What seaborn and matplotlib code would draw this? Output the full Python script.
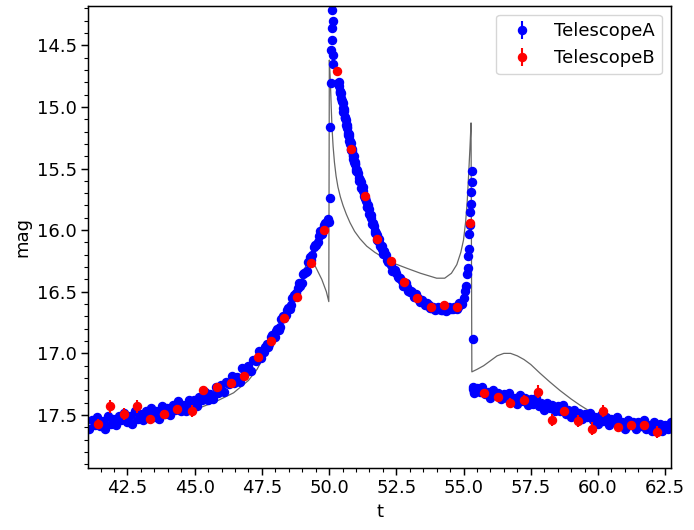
import numpy as np
import matplotlib
matplotlib.use("Agg")
import matplotlib.pyplot as plt
import seaborn as sns

# TelescopeA: baseline rise before the first caustic crossing
tA_rise = [41.08, 41.18, 41.28, 41.38, 41.48, 41.58, 41.68, 41.78, 41.88, 41.98,
           42.08, 42.18, 42.28, 42.38, 42.48, 42.58, 42.68, 42.78, 42.88, 42.98,
           43.08, 43.18, 43.28, 43.38, 43.48, 43.58, 43.68, 43.78, 43.88, 43.98,
           44.08, 44.18, 44.28, 44.38, 44.48, 44.58, 44.68, 44.78, 44.88, 44.98,
           45.08, 45.18, 45.28, 45.38, 45.48, 45.58, 45.68, 45.78, 45.88, 45.98,
           46.08, 46.18, 46.28, 46.38, 46.48, 46.58, 46.68, 46.78, 46.88, 46.98,
           47.08, 47.18, 47.28, 47.38, 47.48, 47.58, 47.68, 47.78, 47.88, 47.98,
           48.08, 48.18, 48.28, 48.38, 48.48, 48.58, 48.68, 48.78, 48.88, 48.98,
           49.08, 49.18, 49.28, 49.38, 49.48, 49.58, 49.68, 49.78, 49.86, 49.92,
           49.97, 50.00,
           47.63, 47.73, 47.83, 47.93, 48.03, 48.13, 48.23, 48.33, 48.43, 48.53,
           48.63, 48.73, 48.83, 48.93, 49.03, 49.13, 49.23, 49.33, 49.43, 49.53,
           49.63, 49.73, 49.82]
magA_rise = [17.61, 17.54, 17.58, 17.52, 17.59, 17.55, 17.61, 17.51, 17.57, 17.53,
             17.58, 17.51, 17.54, 17.48, 17.56, 17.51, 17.57, 17.47, 17.53, 17.49,
             17.54, 17.47, 17.50, 17.44, 17.52, 17.47, 17.53, 17.43, 17.49, 17.44,
             17.50, 17.42, 17.46, 17.39, 17.47, 17.42, 17.47, 17.38, 17.43, 17.38,
             17.43, 17.35, 17.38, 17.31, 17.38, 17.33, 17.37, 17.27, 17.32, 17.26,
             17.31, 17.23, 17.25, 17.18, 17.24, 17.19, 17.23, 17.12, 17.16, 17.10,
             17.14, 17.05, 17.06, 16.98, 17.04, 16.99, 16.92, 16.92, 16.85, 16.87,
             16.80, 16.79, 16.70, 16.69, 16.63, 16.61, 16.53, 16.51, 16.43, 16.43,
             16.35, 16.33, 16.22, 16.20, 16.12, 16.10, 16.01, 15.99, 15.94, 15.93,
             15.91, 15.93,
             16.95, 16.95, 16.87, 16.87, 16.82, 16.81, 16.72, 16.71, 16.65, 16.64,
             16.55, 16.53, 16.47, 16.45, 16.36, 16.34, 16.26, 16.24, 16.14, 16.12,
             16.05, 16.03, 15.96]

# TelescopeA: points on the first caustic peak
tA_peak = [50.03, 50.04, 50.07, 50.09, 50.11, 50.10, 50.13, 50.10, 50.14, 50.15]
magA_peak = [15.74, 15.16, 14.81, 14.54, 14.46, 14.36, 14.30, 14.21, 14.58, 14.65]

# TelescopeA: decline between the caustics and second crossing
tA_fall = [50.35, 50.38, 50.41, 50.44, 50.47, 50.50, 50.53, 50.56, 50.59, 50.62,
           50.65, 50.68, 50.71, 50.74, 50.77, 50.80, 50.83, 50.86, 50.89, 50.92,
           50.95, 50.98, 51.01, 51.05, 51.10, 51.15, 51.20, 51.25, 51.30, 51.35,
           51.40, 51.45, 51.50, 51.55, 51.60, 51.65, 51.70, 51.75, 51.80, 51.85,
           51.90, 51.95, 52.00, 52.05, 52.15, 52.25, 52.35, 52.45, 52.55, 52.65,
           52.75, 52.85, 52.95, 53.05, 53.15, 53.25, 53.35, 53.45, 53.55, 53.65,
           53.75, 53.85, 53.95, 54.05, 54.15, 54.25, 54.35, 54.45, 54.55, 54.65,
           54.75, 54.85, 54.95, 55.02, 55.07, 55.10, 55.13, 55.15, 55.17, 55.19,
           55.21, 55.23, 55.25, 55.27, 55.29, 55.30, 55.31, 55.36,
           50.365, 50.395, 50.425, 50.455, 50.485, 50.515, 50.545, 50.575, 50.605, 50.635,
           50.665, 50.695, 50.725, 50.755, 50.785, 50.815, 50.845, 50.875, 50.905, 50.935,
           50.965, 50.995, 51.075, 51.125, 51.175, 51.225, 51.275, 51.325, 51.375, 51.425,
           51.475, 51.525, 51.575, 51.625, 51.675, 51.725, 51.775, 51.825, 51.875, 51.925,
           51.975, 52.025, 52.10, 52.20, 52.30, 52.40, 52.50, 52.60, 52.70, 52.80,
           52.90, 53.00, 53.10, 53.20, 53.30, 53.40, 53.50, 53.60, 53.70, 53.80,
           53.90, 54.00, 54.10, 54.20, 54.30, 54.40, 54.50, 54.60, 54.70, 54.80,
           54.90]
magA_fall = [14.81, 14.83, 14.89, 14.89, 14.95, 14.97, 15.04, 15.03, 15.09, 15.11,
             15.17, 15.16, 15.23, 15.24, 15.30, 15.29, 15.35, 15.36, 15.42, 15.40,
             15.46, 15.46, 15.52, 15.51, 15.58, 15.59, 15.66, 15.65, 15.72, 15.74,
             15.81, 15.80, 15.87, 15.88, 15.95, 15.94, 16.01, 16.02, 16.08, 16.07,
             16.13, 16.13, 16.19, 16.17, 16.24, 16.26, 16.33, 16.32, 16.38, 16.39,
             16.45, 16.43, 16.49, 16.49, 16.54, 16.52, 16.57, 16.57, 16.61, 16.59,
             16.63, 16.62, 16.65, 16.62, 16.65, 16.63, 16.66, 16.62, 16.64, 16.62,
             16.64, 16.59, 16.60, 16.55, 16.49, 16.45, 16.36, 16.31, 16.21, 16.15,
             16.03, 15.96, 15.85, 15.79, 15.69, 15.61, 15.52, 16.88,
             14.80, 14.87, 14.88, 14.93, 14.95, 15.01, 15.02, 15.08, 15.09, 15.15,
             15.15, 15.21, 15.22, 15.28, 15.28, 15.34, 15.34, 15.39, 15.40, 15.45,
             15.45, 15.50, 15.54, 15.60, 15.61, 15.66, 15.68, 15.74, 15.76, 15.81,
             15.83, 15.88, 15.90, 15.95, 15.97, 16.02, 16.04, 16.08, 16.10, 16.13,
             16.15, 16.18, 16.20, 16.26, 16.28, 16.33, 16.35, 16.39, 16.41, 16.45,
             16.46, 16.50, 16.50, 16.54, 16.55, 16.58, 16.58, 16.61, 16.61, 16.63,
             16.63, 16.64, 16.63, 16.65, 16.64, 16.65, 16.63, 16.64, 16.62, 16.62,
             16.59]

# TelescopeA: after the second caustic exit
tA_tail = [55.36, 55.38, 55.36,
           55.40, 55.50, 55.60, 55.70, 55.80, 55.90, 56.00, 56.10, 56.20, 56.30,
           56.40, 56.50, 56.60, 56.70, 56.80, 56.90, 57.00, 57.10, 57.20, 57.30,
           57.40, 57.50, 57.60, 57.70, 57.80, 57.90, 58.00, 58.10, 58.20, 58.30,
           58.40, 58.50, 58.60, 58.70, 58.80, 58.90, 59.00, 59.10, 59.20, 59.30,
           59.40, 59.50, 59.60, 59.70, 59.80, 59.90, 60.00, 60.10, 60.20, 60.30,
           60.40, 60.50, 60.60, 60.70, 60.80, 60.90, 61.00, 61.10, 61.20, 61.30,
           61.40, 61.50, 61.60, 61.70, 61.80, 61.90, 62.00, 62.10, 62.20, 62.30,
           62.40, 62.50, 62.60, 62.70]
magA_tail = [17.27, 17.31, 17.29,
             17.32, 17.28, 17.31, 17.27, 17.33, 17.31, 17.36, 17.30, 17.34, 17.32,
             17.37, 17.33, 17.36, 17.32, 17.38, 17.36, 17.41, 17.34, 17.39, 17.36,
             17.42, 17.37, 17.41, 17.36, 17.43, 17.40, 17.46, 17.40, 17.44, 17.42,
             17.47, 17.43, 17.47, 17.42, 17.49, 17.46, 17.52, 17.46, 17.50, 17.48,
             17.53, 17.49, 17.52, 17.48, 17.54, 17.52, 17.57, 17.50, 17.55, 17.52,
             17.58, 17.53, 17.56, 17.52, 17.58, 17.56, 17.61, 17.54, 17.58, 17.56,
             17.61, 17.56, 17.59, 17.54, 17.61, 17.58, 17.63, 17.56, 17.60, 17.57,
             17.63, 17.58, 17.61, 17.56]
errA = 0.01

# TelescopeB
tB = [41.39, 41.86, 42.38, 42.87, 43.34, 43.85, 44.36, 44.90, 45.33, 45.83,
      46.35, 46.82, 47.34, 47.84, 48.31, 48.80, 49.32, 49.82, 50.29, 50.81,
      51.32, 51.80, 52.30, 52.80, 53.26, 53.78, 54.28, 54.75, 55.24, 55.78,
      56.30, 56.73, 57.26, 57.76, 58.28, 58.73, 59.24, 59.76, 60.19, 60.73,
      61.22, 61.71, 62.20]
magB = [17.57, 17.43, 17.49, 17.43, 17.53, 17.49, 17.45, 17.47, 17.30, 17.27,
        17.24, 17.18, 17.03, 16.90, 16.71, 16.54, 16.27, 16.00, 14.71, 15.34,
        15.72, 16.07, 16.25, 16.42, 16.55, 16.62, 16.61, 16.62, 15.94, 17.32,
        17.35, 17.40, 17.38, 17.31, 17.54, 17.47, 17.55, 17.61, 17.47, 17.60,
        17.58, 17.58, 17.64]
errB = [0.04, 0.05, 0.05, 0.05, 0.03, 0.03, 0.03, 0.05, 0.03, 0.03,
        0.03, 0.03, 0.03, 0.03, 0.03, 0.03, 0.03, 0.03, 0.03, 0.03,
        0.03, 0.03, 0.03, 0.03, 0.03, 0.03, 0.03, 0.03, 0.03, 0.03,
        0.03, 0.04, 0.04, 0.05, 0.05, 0.03, 0.05, 0.05, 0.05, 0.03,
        0.03, 0.03, 0.05]

# model light curve
t_model = [41.04, 42.0, 43.0, 44.0, 44.77, 45.21, 45.8, 46.45, 47.0, 47.32,
           47.69, 48.0, 48.3, 48.6, 48.9, 49.18, 49.3, 49.48, 49.73, 49.9,
           49.99, 50.01, 50.05, 50.08, 50.11, 50.15, 50.20, 50.26, 50.33, 50.42,
           50.52, 50.64, 50.78, 50.95, 51.15, 51.4, 51.7, 52.0, 52.3, 52.9,
           53.4, 54.0, 54.3, 54.55, 54.75, 54.9, 55.0, 55.08, 55.14, 55.19,
           55.24, 55.28, 55.31, 55.5, 55.75, 56.0, 56.25, 56.5, 56.75, 57.0,
           57.25, 57.5, 57.84, 58.2, 58.58, 59.0, 59.33, 59.7, 60.2, 60.8,
           61.5, 62.72]
mag_model = [17.60, 17.57, 17.54, 17.50, 17.48, 17.44, 17.39, 17.32, 17.22, 17.13,
             16.98, 16.87, 16.72, 16.58, 16.44, 16.26, 16.24, 16.29, 16.40, 16.50,
             16.58, 14.62, 14.80, 15.00, 15.17, 15.32, 15.45, 15.56, 15.65, 15.73,
             15.80, 15.87, 15.94, 16.01, 16.07, 16.13, 16.18, 16.22, 16.26, 16.31,
             16.35, 16.39, 16.39, 16.35, 16.28, 16.18, 16.08, 15.93, 15.76, 15.55,
             15.33, 15.13, 17.15, 17.13, 17.10, 17.06, 17.02, 17.00, 17.00, 17.02,
             17.05, 17.09, 17.16, 17.23, 17.30, 17.37, 17.42, 17.47, 17.52, 17.55,
             17.58, 17.61]

sns.set_style("ticks", rc={
    "axes.edgecolor": "black", "axes.labelcolor": "black", "text.color": "black",
    "xtick.color": "black", "ytick.color": "black",
})
plt.rcParams.update({
    "font.family": ["DejaVu Sans"],
    "font.size": 13,
    "axes.linewidth": 1.07,
    "xtick.major.size": 4.7, "ytick.major.size": 4.7,
    "xtick.minor.size": 2.7, "ytick.minor.size": 2.7,
    "xtick.major.width": 1.07, "ytick.major.width": 1.07,
    "xtick.minor.width": 0.8, "ytick.minor.width": 0.8,
    "xtick.labelsize": 13, "ytick.labelsize": 13,
    "axes.labelsize": 13, "legend.fontsize": 13,
})

tA = np.concatenate([tA_rise, tA_peak, tA_fall, tA_tail])
magA = np.concatenate([magA_rise, magA_peak, magA_fall, magA_tail])

fig, ax = plt.subplots(figsize=(6.94, 5.30), dpi=100)
fig.subplots_adjust(left=0.127, right=0.967, top=0.989, bottom=0.117)

sns.lineplot(x=t_model, y=mag_model, sort=False, color="black", lw=0.9,
             alpha=0.6, ax=ax, zorder=1)
ax.errorbar(tA, magA, yerr=errA, fmt="o", color="blue", ms=5.8,
            label="TelescopeA", zorder=2)
ax.errorbar(tB, magB, yerr=errB, fmt="o", color="red", ms=5.8,
            label="TelescopeB", zorder=3)

ax.set_xlim(41.04, 62.72)
ax.set_ylim(17.93, 14.18)
ax.minorticks_on()
ax.set_xlabel("t")
ax.set_ylabel("mag")
ax.legend(loc="upper right")

fig.savefig("out.png", dpi=100)
